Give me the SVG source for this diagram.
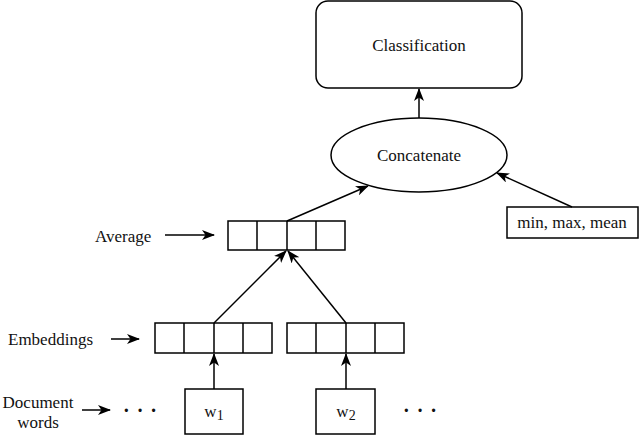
<svg xmlns="http://www.w3.org/2000/svg" width="640" height="435" viewBox="0 0 640 435">
<style>
.s{fill:#fff;stroke:#000;stroke-width:1.5}
.c{fill:none;stroke:#000;stroke-width:1.5}
.t{font-family:"Liberation Serif","Times New Roman",serif;font-size:17px;fill:#111}
.m{text-anchor:middle}
.d{font-family:"Liberation Serif","Times New Roman",serif;font-size:20px;font-weight:bold;fill:#111;letter-spacing:1px}
</style>
<defs>
<marker id="a" viewBox="0 0 13 10" refX="12" refY="5" markerWidth="13" markerHeight="10" markerUnits="userSpaceOnUse" orient="auto">
<path d="M0,0 L13,5 L0,10 L3.5,5 z" fill="#000"/>
</marker>
</defs>
<rect width="640" height="435" fill="#fff"/>
<g id="classification">
<rect class="s" x="316" y="1" width="206" height="87" rx="12"/>
<text class="t m" x="419" y="51">Classification</text>
</g>
<g id="concatenate">
<ellipse class="s" cx="419" cy="155" rx="88" ry="37"/>
<text class="t m" x="419" y="161">Concatenate</text>
</g>
<g id="stats">
<rect class="s" x="507" y="207" width="131" height="31"/>
<text class="t m" x="572" y="228">min, max, mean</text>
</g>
<g id="average">
<rect class="s" x="228" y="221" width="117" height="29"/>
<path class="c" d="M257,221V250M287,221V250M316,221V250"/>
</g>
<g id="embedding1">
<rect class="s" x="155" y="323" width="117" height="30"/>
<path class="c" d="M184,323V353M214,323V353M243,323V353"/>
</g>
<g id="embedding2">
<rect class="s" x="287" y="323" width="117" height="30"/>
<path class="c" d="M316,323V353M346,323V353M375,323V353"/>
</g>
<g id="w1">
<rect class="s" x="185" y="389" width="58" height="45"/>
<text class="t m" x="214" y="417">w<tspan font-size="14" dy="3">1</tspan></text>
</g>
<g id="w2">
<rect class="s" x="316" y="389" width="59" height="45"/>
<text class="t m" x="346" y="417">w<tspan font-size="14" dy="3">2</tspan></text>
</g>
<g id="labels">
<text class="t" x="95" y="242">Average</text>
<text class="t" x="8" y="345">Embeddings</text>
<text class="t m" x="38" y="408">Document</text>
<text class="t m" x="38" y="428">words</text>
<text class="d" x="123" y="417">· · ·</text>
<text class="d" x="403" y="417">· · ·</text>
</g>
<g id="connectors">
<path class="c" d="M419,118V89" marker-end="url(#a)"/>
<path class="c" d="M287,221L368,186" marker-end="url(#a)"/>
<path class="c" d="M572,207L497,173" marker-end="url(#a)"/>
<path class="c" d="M165,235H214" marker-end="url(#a)"/>
<path class="c" d="M214,323L286,251" marker-end="url(#a)"/>
<path class="c" d="M346,323L288,251" marker-end="url(#a)"/>
<path class="c" d="M111,339H139" marker-end="url(#a)"/>
<path class="c" d="M214,389V354" marker-end="url(#a)"/>
<path class="c" d="M346,389V354" marker-end="url(#a)"/>
<path class="c" d="M82,410H110" marker-end="url(#a)"/>
</g>
</svg>
